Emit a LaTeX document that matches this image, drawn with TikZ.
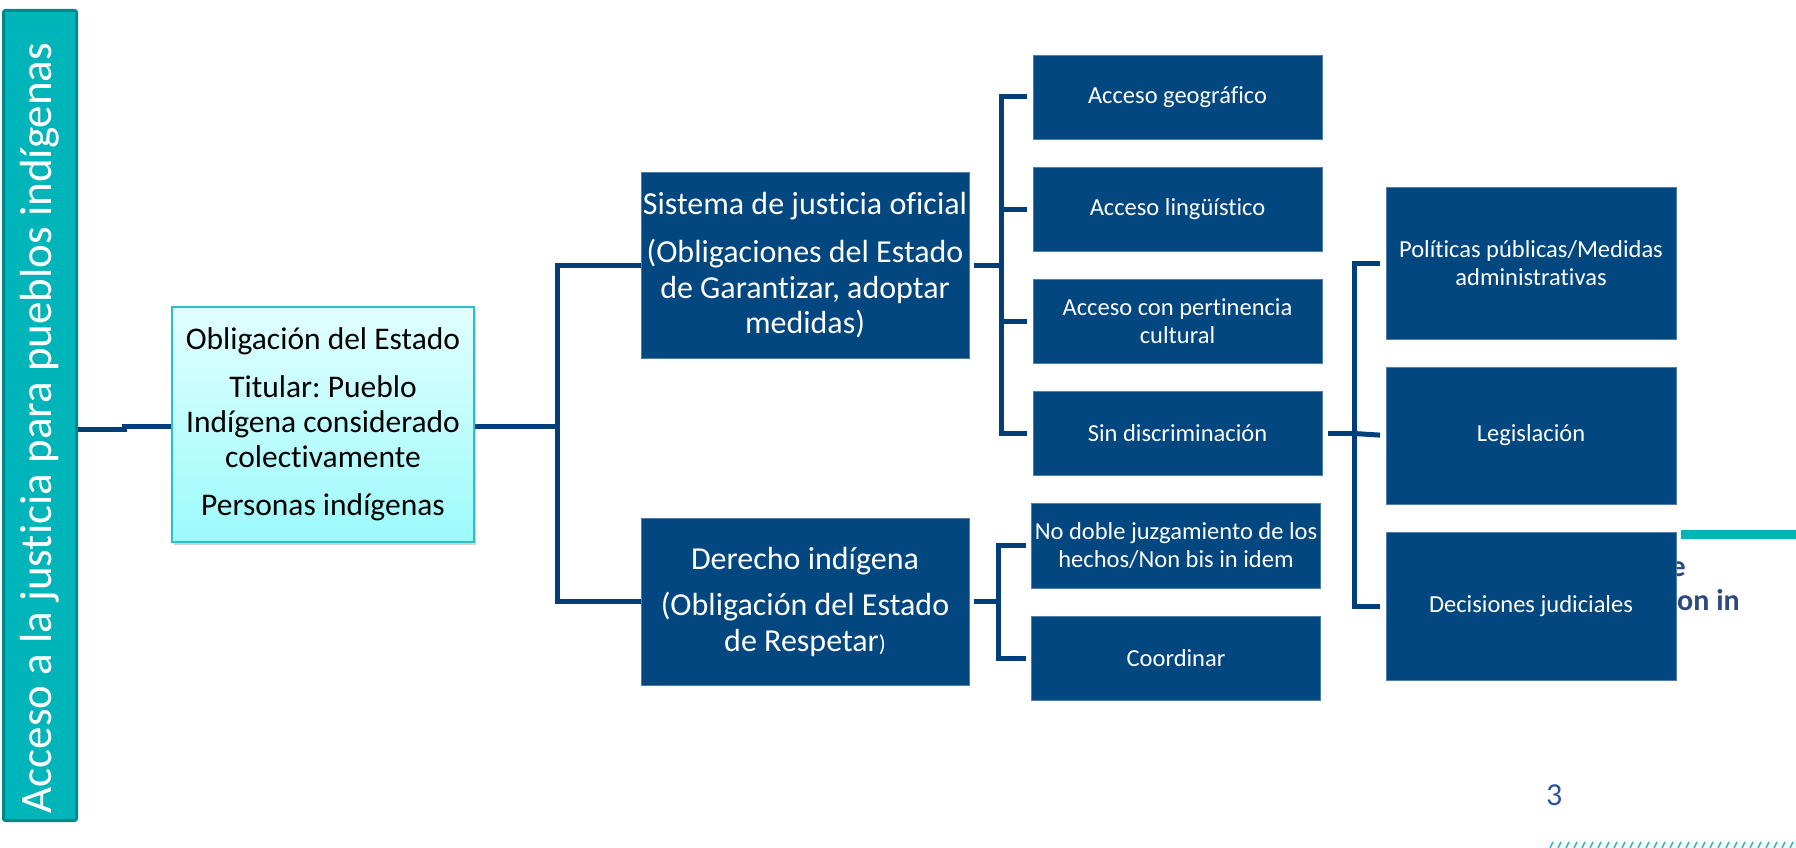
\documentclass[tikz,border=0pt]{standalone}
\usepackage{fontspec}
\setmainfont{Carlito}[Ligatures={NoCommon}]
\frenchspacing
\usetikzlibrary{shadows}
\definecolor{navy}{HTML}{02477F}
\definecolor{conncol}{HTML}{023F7A}
\definecolor{tealfill}{HTML}{00B5BA}
\definecolor{tealdark}{HTML}{00878B}
\definecolor{cyanborder}{HTML}{2CC0C6}
\definecolor{cyantop}{HTML}{E2FFFF}
\definecolor{cyanbot}{HTML}{9CFAFB}
\definecolor{slateblue}{HTML}{2E4A7D}
\definecolor{pagenum}{HTML}{2F5597}
\definecolor{hatchcol}{HTML}{1BBBBE}
\begin{document}
\frenchspacing
\begin{tikzpicture}[x=1pt,y=-1pt,
  conn/.style={draw=conncol, line width=5pt},
  darkbox/.style={fill=navy, draw=navy!70!white, line width=0.6pt, text=white, align=center,
    inner sep=0pt, outer sep=0pt, minimum width=289pt, font=\fontsize{24.5}{28}\selectfont},
  bigbox/.style={darkbox, minimum width=328pt, font=\fontsize{32}{35.5}\selectfont},
  rightbox/.style={darkbox, minimum width=290pt},
  bgtext/.style={text=slateblue, font=\bfseries\fontsize{30}{34}\selectfont, inner sep=0pt}
]
\useasboundingbox (0,0) rectangle (1796,848);

% background slide elements (partly hidden)
\fill[tealfill] (1681,530) rectangle (1796,539);
\node[bgtext, anchor=base east] (bge) at (1686,576) {e};
\node[bgtext, anchor=base west] (bgon) at (1677,610) {on in};
\node[text=pagenum, font=\fontsize{32}{36}\selectfont, inner sep=0pt, anchor=base west] (pnum) at (1546,805) {3};
\foreach \x in {1550,1558,...,1796}
  \draw[hatchcol, line width=1.4pt] (\x,848) -- (\x+3,842);

% left bar
\node[draw=tealdark, fill=tealfill, line width=3pt, rounded corners=2pt,
      minimum width=73pt, minimum height=810pt, inner sep=0pt] (bar) at (40,415.5) {};
\node[rotate=90, text=white, font=\fontsize{45}{50}\selectfont, inner sep=0pt] (bartext) at (40,428) {Acceso a la justicia para pueblos indígenas};

% central box
\node[draw=cyanborder, line width=1.5pt, top color=cyantop, bottom color=cyanbot,
      drop shadow={opacity=0.35, shadow xshift=2pt, shadow yshift=-3pt},
      minimum width=302pt, minimum height=235pt, align=center, inner sep=0pt,
      font=\fontsize{31.5}{35}\selectfont, text=black] (obl) at (323,424.5)
  {Obligación del Estado\\[13pt] Titular: Pueblo\\ Indígena considerado\\ colectivamente\\[13pt] Personas indígenas};

% second level
\node[bigbox, minimum height=186pt] (sis) at (805,265)
  {Sistema de justicia oficial\\[13pt] (Obligaciones del Estado\\ de Garantizar, adoptar\\ medidas)};
\node[bigbox, minimum height=167pt] (der) at (805,601.5)
  {Derecho indígena\\[11pt] (Obligación del Estado\\ de Respetar{\fontsize{23}{27}\selectfont)}};

% third level
\node[darkbox, minimum height=84pt] (geo) at (1177.5,97) {Acceso geográfico};
\node[darkbox, minimum height=84pt] (ling) at (1177.5,209) {Acceso lingüístico};
\node[darkbox, minimum height=84pt] (pert) at (1177.5,321) {Acceso con pertinencia\\ cultural};
\node[darkbox, minimum height=84pt] (sin) at (1177.5,433.5) {Sin discriminación};
\node[darkbox, minimum height=85pt] (nob) at (1176,545.5) {No doble juzgamiento de los\\ hechos/Non bis in idem};
\node[darkbox, minimum height=84pt] (coo) at (1176,658) {Coordinar};

% fourth level
\node[rightbox, minimum height=152pt] (pol) at (1531,263) {Políticas públicas/Medidas\\ administrativas};
\node[rightbox, minimum height=137pt] (leg) at (1531,435.5) {Legislación};
\node[rightbox, minimum height=148pt] (dec) at (1531,606) {Decisiones judiciales};

% junctions
\coordinate (j0a) at (124,429);
\coordinate (j0b) at (124,426);
\coordinate (j1) at (557,426);
\coordinate (j2) at (1001,265);
\coordinate (j3) at (998,601.5);
\coordinate (j4) at (1354,433.5);

% connectors
\draw[conn] (j0a -| bar.east) -- (j0a) -- (j0b) -- (j0b -| obl.west);
\draw[conn] (j1 -| obl.east) -- (j1);
\draw[conn] (sis.west) -| (j1) |- (der.west);

\draw[conn, shorten <=5pt] (sis.east) -- (j2);
\draw[conn, shorten <=6pt, shorten >=6pt] (geo.west) -| (j2) |- (sin.west);
\draw[conn, shorten >=6pt] (ling.west -| j2) -- (ling.west);
\draw[conn, shorten >=6pt] (pert.west -| j2) -- (pert.west);

\draw[conn, shorten <=5pt] (der.east) -- (j3);
\draw[conn, shorten <=6pt, shorten >=6pt] (nob.west) -| (j3) |- (coo.west);

\draw[conn, shorten <=6pt] (sin.east) -- (j4);
\draw[conn, shorten <=6pt, shorten >=6pt] (pol.west) -| (j4) |- (dec.west);
\draw[conn, shorten >=6pt] (j4) -- (leg.west);
\end{tikzpicture}
\end{document}
